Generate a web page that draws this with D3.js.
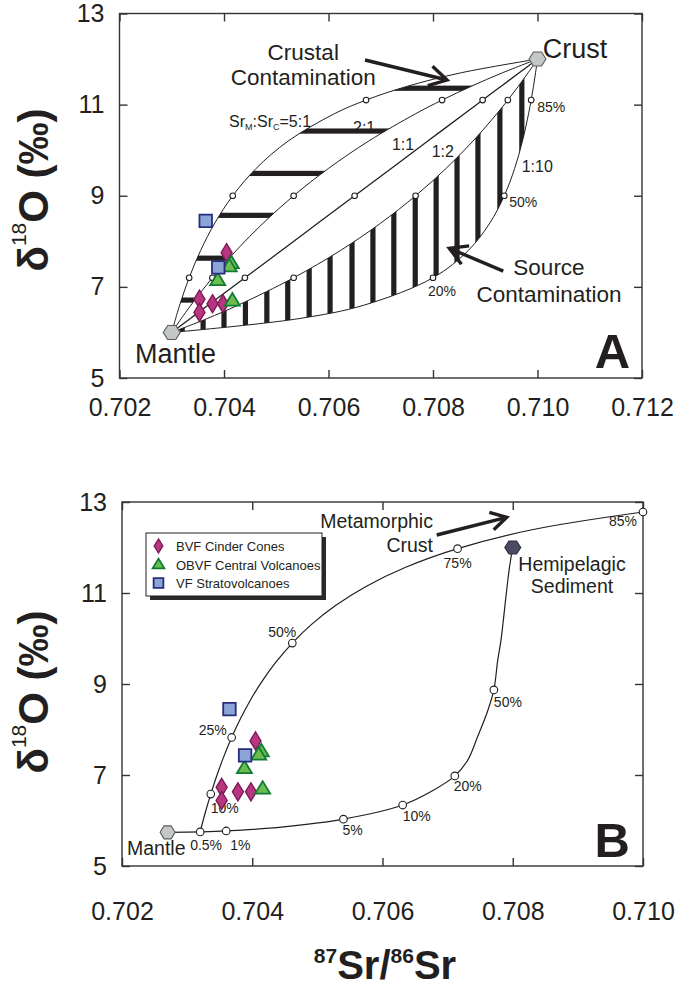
<!DOCTYPE html>
<html>
<head>
<meta charset="utf-8">
<script src="https://cdn.jsdelivr.net/npm/d3@7"></script>
<style>
  body { margin: 0; background: #fff; }
  svg { display: block; font-family: "Liberation Sans", Arial, Helvetica, sans-serif; }
</style>
</head>
<body>
<svg id="chart" width="678" height="991"></svg>
<script>
// ---------------- data ----------------
const srTicksA = [0.702, 0.704, 0.706, 0.708, 0.710, 0.712];
const srTicksB = [0.702, 0.704, 0.706, 0.708, 0.710];
const d18Ticks = [5, 7, 9, 11, 13];

// Panel A: end members
const mantleA = [0.7030, 6.0];
const crustA = [0.7100, 12.0];

// Panel A: mixing curves, delta18O at crust fractions 0,5,10,20,30,40,50,60,70,80,85,90,95,100 %
const mixD18 = [6.0, 6.3, 6.6, 7.2, 7.8, 8.4, 9.0, 9.6, 10.2, 10.8, 11.1, 11.4, 11.7, 12.0];
const srRatio5to1 = [0.703, 0.703073, 0.703152, 0.703333, 0.703553, 0.703824, 0.704167, 0.704615, 0.705227, 0.706111, 0.706719, 0.7075, 0.708542, 0.710];
const srRatio2to1 = [0.703, 0.703179, 0.703368, 0.703778, 0.704235, 0.70475, 0.705333, 0.706, 0.706769, 0.707667, 0.708174, 0.708727, 0.709333, 0.710];
const srRatio1to1 = [0.703, 0.70335, 0.7037, 0.7044, 0.7051, 0.7058, 0.7065, 0.7072, 0.7079, 0.7086, 0.70895, 0.7093, 0.70965, 0.710];
const srRatio1to2 = [0.703, 0.703667, 0.704273, 0.705333, 0.706231, 0.707, 0.707667, 0.70825, 0.708765, 0.709222, 0.709432, 0.709632, 0.709821, 0.710];
const srRatio1to10 = [0.703, 0.705414, 0.706684, 0.708, 0.708676, 0.709087, 0.709364, 0.709563, 0.709712, 0.709829, 0.709879, 0.709923, 0.709963, 0.710];
const ratioLabels = ["5:1", "2:1", "1:1", "1:2", "1:10"];

// open circles at 20, 50 and 85 % crust
const markedD18A = [7.2, 9.0, 11.1];
const markedPctA = ["20%", "50%", "85%"];

// hatching: crustal contamination (horizontal) and source contamination (vertical)
const crustalBarsD18 = [6.71, 7.63, 8.57, 9.49, 10.42, 11.36];
const sourceBarsSr = [0.70320, 0.70360, 0.70400, 0.70441, 0.70482, 0.70522, 0.70563, 0.70603, 0.70645,
                      0.70685, 0.70725, 0.70766, 0.70806, 0.70846, 0.70886, 0.70928, 0.70970];

// Panel B: end members
const mantleB = [0.70270, 5.74];
const sedimentB = [0.70800, 12.0];

// Panel B: mantle + hemipelagic sediment (source contamination)
const sedSr  = [0.70270, 0.70320, 0.70360, 0.70448, 0.70540, 0.70631, 0.70674, 0.70711, 0.70731, 0.70746,
                0.70762, 0.70771, 0.70777, 0.70782, 0.70789, 0.70795, 0.70800];
const sedD18 = [5.74, 5.75, 5.77, 5.86, 6.03, 6.34, 6.63, 6.98, 7.33, 7.84,
                8.43, 8.87, 9.53, 9.97, 10.85, 11.57, 12.00];
const sedMarkIdx = [1, 2, 4, 5, 7, 11];
const sedMarkPct = ["0.5%", "1%", "5%", "10%", "20%", "50%"];

// Panel B: contaminated source + metamorphic crust
const metaSr  = [0.70320, 0.703277, 0.703363, 0.703458, 0.703564, 0.703684, 0.70382, 0.703975, 0.704155,
                 0.704366, 0.704615, 0.704915, 0.705284, 0.705747, 0.706347, 0.707153, 0.708296, 0.71000];
const metaD18 = [5.75, 6.165, 6.58, 6.995, 7.41, 7.825, 8.24, 8.655, 9.07,
                 9.485, 9.90, 10.315, 10.73, 11.145, 11.56, 11.975, 12.39, 12.78];
const metaMarkIdx = [2, 5, 10, 15, 17];
const metaMarkPct = ["10%", "25%", "50%", "75%", "85%"];

// samples
const seriesNames = ["BVF Cinder Cones", "OBVF Central Volcanoes", "VF Stratovolcanoes"];
const bvfSr   = [0.70405, 0.70353, 0.70353, 0.70378, 0.70398];
const bvfD18  = [7.75, 6.73, 6.44, 6.63, 6.63];
const obvfSr  = [0.70414, 0.70410, 0.70388, 0.70416];
const obvfD18 = [7.52, 7.45, 7.15, 6.70];
const vfSr    = [0.70365, 0.70389];
const vfD18   = [8.45, 7.43];

// ---------------- drawing ----------------
const INK = "#231f20";
const svg = d3.select("#chart");

const xA = d3.scaleLinear().domain([0.702, 0.712]).range([119.5, 642]);
const yA = d3.scaleLinear().domain([5, 13]).range([378, 13.5]);
const xB = d3.scaleLinear().domain([0.702, 0.710]).range([122, 643]);
const yB = d3.scaleLinear().domain([5, 13]).range([866, 502]);

const zip = (xs, ys) => xs.map((v, i) => [v, ys[i]]);

function drawFrame(x, y, xTicks, xPad, yPad) {
  const g = svg.append("g");
  const [xl, xr] = x.range(), [yb, yt] = y.range();
  const styleAxis = sel => {
    sel.select(".domain").remove();
    sel.selectAll(".tick line").attr("stroke", "#333").attr("stroke-width", 1.4);
    sel.selectAll(".tick text").attr("font-size", 25).attr("fill", INK)
      .attr("font-family", '"Liberation Sans", Arial, sans-serif');
  };
  g.append("g").attr("transform", `translate(0,${yb})`)
    .call(d3.axisBottom(x).tickValues(xTicks).tickSize(-8).tickPadding(xPad).tickFormat(d3.format(".3f")))
    .call(styleAxis);
  g.append("g").attr("transform", `translate(0,${yt})`)
    .call(d3.axisTop(x).tickValues(xTicks).tickSize(-8).tickFormat(""))
    .call(styleAxis);
  g.append("g").attr("transform", `translate(${xl},0)`)
    .call(d3.axisLeft(y).tickValues(d18Ticks).tickSize(-8).tickPadding(yPad).tickFormat(d3.format("d")))
    .call(styleAxis);
  g.append("g").attr("transform", `translate(${xr},0)`)
    .call(d3.axisRight(y).tickValues(d18Ticks).tickSize(-8).tickFormat(""))
    .call(styleAxis);
  g.append("rect").attr("x", xl).attr("y", yt).attr("width", xr - xl).attr("height", yb - yt)
    .attr("fill", "none").attr("stroke", "#333").attr("stroke-width", 1.4);
}

function yTitle(cx, cy) {
  const t = svg.append("text").attr("transform", `translate(${cx},${cy}) rotate(-90)`)
    .attr("text-anchor", "middle").attr("fill", INK).attr("dominant-baseline", "central");
  t.append("tspan").text("δ").attr("font-size", 42).attr("font-weight", "bold");
  t.append("tspan").text("18").attr("font-size", 21).attr("dy", -15);
  t.append("tspan").text("O (‰)").attr("font-size", 42).attr("font-weight", "bold").attr("dy", 15);
}

function label(x, y, str, size, anchor = "start", weight = "normal") {
  return svg.append("text").attr("x", x).attr("y", y).attr("font-size", size)
    .attr("text-anchor", anchor).attr("font-weight", weight).attr("fill", INK).text(str);
}

function arrow(p0, p1, head = 20) {
  const ang = Math.atan2(p1[1] - p0[1], p1[0] - p0[0]);
  const a1 = ang + Math.PI - 0.52, a2 = ang + Math.PI + 0.52;
  const g = svg.append("g").attr("fill", "none").attr("stroke", INK).attr("stroke-width", 3.4);
  g.append("line").attr("x1", p0[0]).attr("y1", p0[1]).attr("x2", p1[0]).attr("y2", p1[1]);
  g.append("path").attr("stroke-linejoin", "miter").attr("d",
    `M${p1[0] + head * Math.cos(a1)},${p1[1] + head * Math.sin(a1)}L${p1[0]},${p1[1]}` +
    `L${p1[0] + head * Math.cos(a2)},${p1[1] + head * Math.sin(a2)}`);
}

// marker shapes
const shapes = {
  hex: (w, h) => `M${-w / 2},0L${-w / 4.2},${-h / 2}L${w / 4.2},${-h / 2}L${w / 2},0L${w / 4.2},${h / 2}L${-w / 4.2},${h / 2}Z`,
  diamond: (w, h) => `M0,${-h / 2}L${w / 2},0L0,${h / 2}L${-w / 2},0Z`,
  triangle: (w, h) => `M0,${-h * 0.6}L${w / 2},${h * 0.4}L${-w / 2},${h * 0.4}Z`,
  square: (w, h) => `M${-w / 2},${-h / 2}H${w / 2}V${h / 2}H${-w / 2}Z`
};
const seriesStyle = [
  { shape: "diamond", fill: "#b8367f", stroke: "#7e1a5a", w: 11, h: 18, sw: 1.4 },
  { shape: "triangle", fill: "#6dbd4e", stroke: "#117a35", w: 15, h: 12.5, sw: 1.8 },
  { shape: "square", fill: "#8ba5d6", stroke: "#272c7c", w: 12.5, h: 12.5, sw: 1.8 }
];

function marker(g, px, py, st, k = 1) {
  g.append("path").attr("transform", `translate(${px},${py})`)
    .attr("d", shapes[st.shape](st.w * k, st.h * k))
    .attr("fill", st.fill).attr("stroke", st.stroke).attr("stroke-width", st.sw);
}

function samples(x, y) {
  const g = svg.append("g");
  [zip(bvfSr, bvfD18), zip(obvfSr, obvfD18), zip(vfSr, vfD18)].forEach((pts, i) => {
    pts.forEach(p => marker(g, x(p[0]), y(p[1]), seriesStyle[i]));
  });
}

function hexagon(px, py, w, h, fill, stroke) {
  svg.append("path").attr("transform", `translate(${px},${py})`).attr("d", shapes.hex(w, h))
    .attr("fill", fill).attr("stroke", stroke).attr("stroke-width", 1.1);
}

function openCircle(px, py, r) {
  svg.append("circle").attr("cx", px).attr("cy", py).attr("r", r)
    .attr("fill", "#fff").attr("stroke", INK).attr("stroke-width", 1.1);
}

// ================= Panel A =================
drawFrame(xA, yA, srTicksA, 20, 15);
yTitle(33, 190);

const curvesA = [srRatio5to1, srRatio2to1, srRatio1to1, srRatio1to2, srRatio1to10]
  .map(sr => sr.map((s, i) => [xA(s), yA(mixD18[i])]));
const smooth = d3.line().curve(d3.curveCatmullRom.alpha(0.5));

// ratio labels
const ratioText = label(xA(0.704096), yA(10.51), "", 16);
ratioText.append("tspan").text("Sr");
ratioText.append("tspan").text("M").attr("font-size", 9).attr("dy", 3);
ratioText.append("tspan").text(":Sr").attr("dy", -3);
ratioText.append("tspan").text("C").attr("font-size", 9).attr("dy", 3);
ratioText.append("tspan").text("=" + ratioLabels[0]).attr("dy", -3);
label(xA(0.706469), yA(10.38), ratioLabels[1], 16);
label(xA(0.707215), yA(10.00), ratioLabels[2], 16);
label(xA(0.707975), yA(9.85), ratioLabels[3], 16);
label(xA(0.709698), yA(9.52), ratioLabels[4], 16);

// hatched fields clipped between neighbouring mixing curves
const band = (upper, lower) => smooth(upper) + "L" + smooth(lower.slice().reverse()).slice(1) + "Z";
const defs = svg.append("defs");
defs.append("clipPath").attr("id", "crustalClip").append("path").attr("d", band(curvesA[0], curvesA[1]));
defs.append("clipPath").attr("id", "sourceClip").append("path").attr("d", band(curvesA[3], curvesA[4]));

svg.append("g").attr("clip-path", "url(#crustalClip)").selectAll("rect")
  .data(crustalBarsD18).join("rect")
  .attr("x", xA.range()[0]).attr("width", xA.range()[1] - xA.range()[0])
  .attr("y", d => yA(d) - 2.6).attr("height", 5.2).attr("fill", INK);

svg.append("g").attr("clip-path", "url(#sourceClip)").selectAll("rect")
  .data(sourceBarsSr).join("rect")
  .attr("x", d => xA(d) - 2.6).attr("width", 5.2)
  .attr("y", yA.range()[1]).attr("height", yA.range()[0] - yA.range()[1]).attr("fill", INK);

svg.append("g").selectAll("path").data(curvesA).join("path")
  .attr("d", smooth).attr("fill", "none").attr("stroke", INK).attr("stroke-width", (d, i) => i === 2 ? 1.3 : 1);

// open circles
curvesA.forEach(c => markedD18A.forEach(v => {
  const p = c[mixD18.indexOf(v)];
  openCircle(p[0], p[1], 2.8);
}));
const pctOffsetA = [[-5, 18.5], [5, 11], [6, 12]];
markedD18A.forEach((v, i) => {
  const p = curvesA[4][mixD18.indexOf(v)];
  label(p[0] + pctOffsetA[i][0], p[1] + pctOffsetA[i][1], markedPctA[i], 14);
});

hexagon(xA(mantleA[0]), yA(mantleA[1]), 17, 14, "#c3c7c7", "#5a5a5a");
hexagon(xA(crustA[0]), yA(crustA[1]), 17, 14, "#c3c7c7", "#5a5a5a");

samples(xA, yA);

label(xA(0.705517), yA(11.98), "Crustal", 22.5, "middle");
label(xA(0.705517), yA(11.43), "Contamination", 22.5, "middle");
arrow([xA(0.706699), yA(11.98)], [xA(0.708268), yA(11.54)]);
label(xA(0.710220), yA(7.27), "Source", 22.5, "middle");
label(xA(0.710220), yA(6.67), "Contamination", 22.5, "middle");
arrow([xA(0.709345), yA(7.347)], [xA(0.708312), yA(7.847)]);
label(xA(0.710100), yA(12.02), "Crust", 27);
label(xA(0.702297), yA(5.336), "Mantle", 27);
label(xA(0.711771), yA(5.21), "A", 49, "end", "bold");

// ================= Panel B =================
drawFrame(xB, yB, srTicksB, 36, 15);
yTitle(33, 692);

const sedPts = zip(sedSr, sedD18).map(p => [xB(p[0]), yB(p[1])]);
const metaPts = zip(metaSr, metaD18).map(p => [xB(p[0]), yB(p[1])]);
svg.append("g").selectAll("path").data([sedPts, metaPts]).join("path")
  .attr("d", smooth).attr("fill", "none").attr("stroke", INK).attr("stroke-width", 1.2);

const sedOffset = [[-10, 18], [4, 19], [-1, 16], [0, 16], [-1, 15], [0, 17]];
sedMarkIdx.forEach((k, i) => label(sedPts[k][0] + sedOffset[i][0], sedPts[k][1] + sedOffset[i][1], sedMarkPct[i], 14));
const metaOffset = [[0, 19], [-33, -2], [-24, -6], [-14, 19], [-34, 14]];
metaMarkIdx.forEach((k, i) => label(metaPts[k][0] + metaOffset[i][0], metaPts[k][1] + metaOffset[i][1], metaMarkPct[i], 14));

sedMarkIdx.forEach(k => openCircle(sedPts[k][0], sedPts[k][1], 3.8));
metaMarkIdx.forEach(k => openCircle(metaPts[k][0], metaPts[k][1], 3.8));

hexagon(xB(mantleB[0]), yB(mantleB[1]), 15, 13, "#c3c7c7", "#5a5a5a");
hexagon(xB(sedimentB[0]), yB(sedimentB[1]), 16, 13, "#4a4a64", "#2c2c3c");

samples(xB, yB);

label(xB(0.706775), yB(12.43), "Metamorphic", 19.5, "end");
label(xB(0.706775), yB(11.90), "Crust", 19.5, "end");
arrow([xB(0.706832), yB(12.275)], [xB(0.707907), yB(12.664)], 18);
label(xB(0.708910), yB(11.48), "Hemipelagic", 19.5, "middle");
label(xB(0.708910), yB(11.00), "Sediment", 19.5, "middle");
label(xB(0.702077), yB(5.242), "Mantle", 19.5);
label(xB(0.7098), yB(5.198), "B", 49, "end", "bold");

// legend
const lg = svg.append("g").attr("transform", `translate(${xB.range()[0] + 24},${yB.range()[1] + 31})`);
lg.append("rect").attr("x", 4).attr("y", 4).attr("width", 176).attr("height", 63).attr("fill", "#2a2a2a");
lg.append("rect").attr("width", 176).attr("height", 63).attr("fill", "#fff").attr("stroke", INK).attr("stroke-width", 1);
seriesNames.forEach((name, i) => {
  const cy = 13 + i * 18.5;
  marker(lg, 12.5, cy, seriesStyle[i], 0.78);
  lg.append("text").attr("x", 30).attr("y", cy + 5).attr("font-size", 13).attr("fill", INK).text(name);
});

// x-axis title
const xt = svg.append("text").attr("x", 385).attr("y", 979).attr("text-anchor", "middle")
  .attr("fill", INK).attr("font-weight", "bold");
xt.append("tspan").text("87").attr("font-size", 21).attr("dy", -16);
xt.append("tspan").text("Sr/").attr("font-size", 40).attr("dy", 16);
xt.append("tspan").text("86").attr("font-size", 21).attr("dy", -16);
xt.append("tspan").text("Sr").attr("font-size", 40).attr("dy", 16);
</script>
</body>
</html>
